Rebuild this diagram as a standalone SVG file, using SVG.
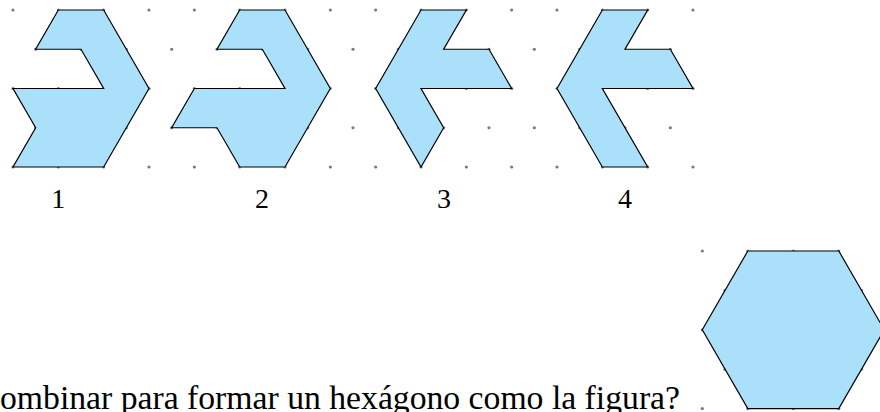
<svg xmlns="http://www.w3.org/2000/svg" xmlns:xlink="http://www.w3.org/1999/xlink" width="880" height="412" viewBox="0 0 880 412">
<style>
.dot{fill:#7a7a7a}
.shape{fill:#abe0fa;stroke:#000;stroke-width:1.2;stroke-linejoin:miter}
.lbl{font-family:"Liberation Serif","DejaVu Serif",serif;font-size:28px;fill:#000;text-anchor:middle}
.q{font-family:"Liberation Serif","DejaVu Serif",serif;font-size:34px;fill:#000}
</style>
<defs><circle id="d" class="dot" r="1.6"/></defs>
<g id="grid">
<use href="#d" x="13" y="10"/><use href="#d" x="58.33" y="10"/><use href="#d" x="103.67" y="10"/><use href="#d" x="149" y="10"/><use href="#d" x="194.33" y="10"/><use href="#d" x="239.67" y="10"/><use href="#d" x="285" y="10"/><use href="#d" x="330.33" y="10"/><use href="#d" x="375.67" y="10"/><use href="#d" x="421" y="10"/><use href="#d" x="466.33" y="10"/><use href="#d" x="511.67" y="10"/><use href="#d" x="557" y="10"/><use href="#d" x="602.33" y="10"/><use href="#d" x="647.67" y="10"/><use href="#d" x="693" y="10"/>
<use href="#d" x="35.67" y="49.25"/><use href="#d" x="81" y="49.25"/><use href="#d" x="126.33" y="49.25"/><use href="#d" x="171.67" y="49.25"/><use href="#d" x="217" y="49.25"/><use href="#d" x="262.33" y="49.25"/><use href="#d" x="307.67" y="49.25"/><use href="#d" x="353" y="49.25"/><use href="#d" x="398.33" y="49.25"/><use href="#d" x="443.67" y="49.25"/><use href="#d" x="489" y="49.25"/><use href="#d" x="534.33" y="49.25"/><use href="#d" x="579.67" y="49.25"/><use href="#d" x="625" y="49.25"/><use href="#d" x="670.33" y="49.25"/>
<use href="#d" x="13" y="88.5"/><use href="#d" x="58.33" y="88.5"/><use href="#d" x="103.67" y="88.5"/><use href="#d" x="149" y="88.5"/><use href="#d" x="194.33" y="88.5"/><use href="#d" x="239.67" y="88.5"/><use href="#d" x="285" y="88.5"/><use href="#d" x="330.33" y="88.5"/><use href="#d" x="375.67" y="88.5"/><use href="#d" x="421" y="88.5"/><use href="#d" x="466.33" y="88.5"/><use href="#d" x="511.67" y="88.5"/><use href="#d" x="557" y="88.5"/><use href="#d" x="602.33" y="88.5"/><use href="#d" x="647.67" y="88.5"/><use href="#d" x="693" y="88.5"/>
<use href="#d" x="35.67" y="127.75"/><use href="#d" x="81" y="127.75"/><use href="#d" x="126.33" y="127.75"/><use href="#d" x="171.67" y="127.75"/><use href="#d" x="217" y="127.75"/><use href="#d" x="262.33" y="127.75"/><use href="#d" x="307.67" y="127.75"/><use href="#d" x="353" y="127.75"/><use href="#d" x="398.33" y="127.75"/><use href="#d" x="443.67" y="127.75"/><use href="#d" x="489" y="127.75"/><use href="#d" x="534.33" y="127.75"/><use href="#d" x="579.67" y="127.75"/><use href="#d" x="625" y="127.75"/><use href="#d" x="670.33" y="127.75"/>
<use href="#d" x="13" y="167"/><use href="#d" x="58.33" y="167"/><use href="#d" x="103.67" y="167"/><use href="#d" x="149" y="167"/><use href="#d" x="194.33" y="167"/><use href="#d" x="239.67" y="167"/><use href="#d" x="285" y="167"/><use href="#d" x="330.33" y="167"/><use href="#d" x="375.67" y="167"/><use href="#d" x="421" y="167"/><use href="#d" x="466.33" y="167"/><use href="#d" x="511.67" y="167"/><use href="#d" x="557" y="167"/><use href="#d" x="602.33" y="167"/><use href="#d" x="647.67" y="167"/><use href="#d" x="693" y="167"/>
<use href="#d" x="702.3" y="251"/><use href="#d" x="747.8" y="251"/><use href="#d" x="793.3" y="251"/><use href="#d" x="838.8" y="251"/>
<use href="#d" x="725" y="290.4"/><use href="#d" x="861.5" y="290.4"/>
<use href="#d" x="702.3" y="329.8"/>
<use href="#d" x="725" y="369.2"/><use href="#d" x="861.5" y="369.2"/>
<use href="#d" x="702.3" y="408.6"/><use href="#d" x="747.8" y="408.6"/><use href="#d" x="793.3" y="408.6"/><use href="#d" x="838.8" y="408.6"/>
</g>
<g id="connectors"/>
<g id="fig1">
<polygon class="shape" points="58.33,10 103.67,10 149,88.5 103.67,167 13,167 35.67,127.75 13,88.5 103.67,88.5 81,49.25 35.67,49.25"/>
<text class="lbl" x="58.3" y="208">1</text>
</g>
<g id="fig2">
<polygon class="shape" points="239.67,10 285,10 330.33,88.5 285,167 239.67,167 217,127.75 171.67,127.75 194.33,88.5 285,88.5 262.33,49.25 217,49.25"/>
<text class="lbl" x="262" y="208">2</text>
</g>
<g id="fig3">
<polygon class="shape" points="421,10 466.33,10 443.67,49.25 489,49.25 511.67,88.5 421,88.5 443.67,127.75 421,167 375.67,88.5"/>
<text class="lbl" x="444" y="208">3</text>
</g>
<g id="fig4">
<polygon class="shape" points="602.33,10 647.67,10 625,49.25 670.33,49.25 693,88.5 602.33,88.5 647.67,167 602.33,167 557,88.5"/>
<text class="lbl" x="625" y="208">4</text>
</g>
<g id="hexagon">
<polygon class="shape" points="747.8,251 838.8,251 884.3,329.8 838.8,408.6 747.8,408.6 702.3,329.8"/>
</g>
<g id="question">
<text class="q" x="0" y="408.5" textLength="680" lengthAdjust="spacingAndGlyphs">ombinar para formar un hexágono como la figura?</text>
</g>
</svg>
